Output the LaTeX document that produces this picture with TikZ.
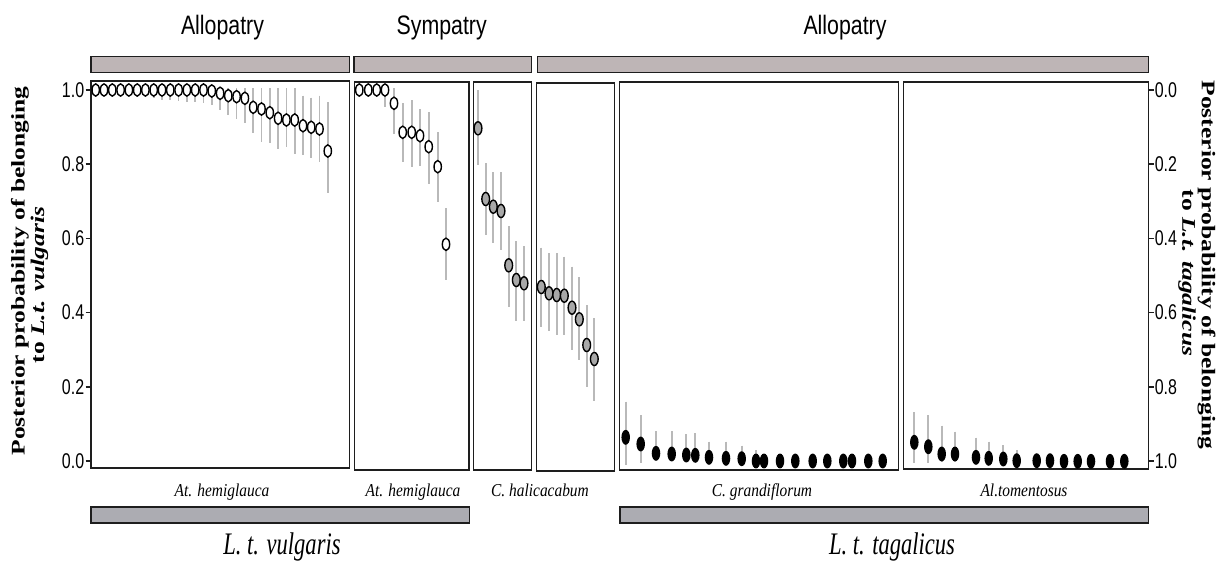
\documentclass[tikz,border=0pt]{standalone}
\usepackage{graphicx}
\usepackage{fontspec}
\setmainfont{Liberation Serif}
\newfontfamily\condsans{Liberation Sans}
\definecolor{errgray}{RGB}{185,185,185}
\definecolor{topbar}{RGB}{190,181,182}
\definecolor{botbar}{RGB}{172,172,178}
\definecolor{dotgray}{RGB}{168,168,168}
\definecolor{framec}{RGB}{30,30,30}
\begin{document}
\begin{tikzpicture}[x=0.75pt,y=-0.75pt,
  panel/.style={draw=framec,line width=1.1pt},
  barbox/.style={draw=framec,line width=1.4pt},
  errbar/.style={draw=errgray,line width=1.3pt},
  openmk/.style={draw=black,fill=white,line width=1.05pt},
  graymk/.style={draw=black,fill=dotgray,line width=1.05pt},
  blackmk/.style={fill=black},
  toptitle/.style={font=\condsans\fontsize{20}{23}\selectfont,inner sep=0pt,anchor=base},
  ticklab/.style={font=\condsans\fontsize{16}{17}\selectfont,inner sep=0pt},
  specieslab/.style={font=\itshape\fontsize{13.6}{15}\selectfont,inner sep=0pt,anchor=base},
  taxonlab/.style={font=\itshape\fontsize{23.5}{26}\selectfont,inner sep=0pt,anchor=base},
  axtitle/.style={font=\bfseries\fontsize{14.5}{16}\selectfont,inner sep=0pt,anchor=center}
]
\useasboundingbox[fill=white] (0,0) rectangle (1225,575);

% titles
\node[toptitle] (allo1) at (222.5,34) {\scalebox{0.8}[1]{Allopatry}};
\node[toptitle] (symp) at (441.7,34) {\scalebox{0.8}[1]{Sympatry}};
\node[toptitle] (allo2) at (845,34) {\scalebox{0.8}[1]{Allopatry}};

% top bars
\draw[barbox,fill=topbar] (91,56.5) rectangle (349.5,72.5);
\draw[barbox,fill=topbar] (354,56.5) rectangle (531.5,72.5);
\draw[barbox,fill=topbar] (537.5,56.5) rectangle (1148.5,72.5);

% panels
\draw[panel] (91,81) rectangle (349.5,468);
\draw[panel] (354.3,82) rectangle (469,470);
\draw[panel] (473.3,82) rectangle (531.5,470);
\draw[panel] (536.7,83) rectangle (614.3,471);
\draw[panel] (619.5,82) rectangle (898.3,470);
\draw[panel] (903.7,82) rectangle (1148.3,469);

% left axis
\foreach \lab/\yy [count=\i] in {1.0/90,0.8/164.2,0.6/238.4,0.4/312.6,0.2/386.8,0.0/461}{
  \draw[panel] (85.5,\yy) -- (91,\yy);
  \node[ticklab,anchor=east] (lt\i) at (84.5,\yy) {\scalebox{0.75}[1]{\lab}};
}
% right axis
\foreach \lab/\yy [count=\i] in {0.0/90,0.2/164.2,0.4/238.4,0.6/312.6,0.8/386.8,1.0/461}{
  \draw[panel] (1148.3,\yy) -- (1153.5,\yy);
  \node[ticklab,anchor=west] (rt\i) at (1154.5,\yy) {\scalebox{0.75}[1]{\lab}};
}

% axis titles
\node[axtitle,rotate=90] (yl1) at (20,271) {\scalebox{1.32}[1]{Posterior probability of belonging}};
\node[axtitle,rotate=90] (yl2) at (39.5,285) {\scalebox{1.32}[1]{to \textit{L.t. vulgaris}}};
\node[axtitle,rotate=-90] (yr1) at (1206.5,265) {\scalebox{1.32}[1]{Posterior probability of belonging}};
\node[axtitle,rotate=-90] (yr2) at (1187,273) {\scalebox{1.32}[1]{to \textit{L.t. tagalicus}}};

% data: open circles (panels 1, 2)
\def\opendata{95.7/90/90/91, 104.0/90/90/91, 112.3/90/90/91, 120.6/90/90/91,
 128.9/90/90/91, 137.2/90/90/92, 145.4/90/88/97, 153.7/90/88/98, 162.0/90/88/100,
 170.3/90/88/100, 178.6/90/88/101, 186.9/90/88/102, 195.2/90/88/102, 203.5/90/88/103,
 211.8/91/88/105, 220.1/93.3/88/110, 228.3/95.7/88/115, 236.6/96.7/88/119,
 244.9/98.3/88/123.3, 253.2/107.3/88/133.3, 261.5/109/88/141.7, 269.8/112.7/88/143.3,
 278.1/118.3/88/149, 286.4/120/88/146.7, 294.7/120/88/154, 303.0/125.7/95.7/155,
 311.2/127.3/97.7/158.3, 319.5/129/95.7/161.7, 327.8/151/102.3/193.3,
 359.3/90/88/92, 368.3/90/88/93, 376.7/90/88/94, 385/90/88/107, 394/103.3/88/134,
 402.7/132.3/103/162, 411.7/132.3/100/167, 420/135.7/109/166, 428.7/146.7/112/184,
 437.7/166.7/132/202, 446/244.3/208/280}
\def\graydata{478/128.3/90/165, 485.7/199/163/235, 493.3/206.7/172/243, 501/211/172/250,
 508.7/265.3/226/307, 516.3/280/241/321, 524/283.3/246/321,
 541.3/287/247.7/326.7, 549/293.3/253.3/331, 556.7/295/253.3/335, 564.3/295.7/256.7/335,
 572/307.7/266.7/350, 579.3/319.3/277.3/360, 586.7/345/305/386.7, 594.3/359/318.3/401}
\def\blackdata{625.7/437.3/401.7/465, 640.7/444/415/463, 656/453.3/431/460,
 671.7/454/431/460, 686.3/455/434.3/461.7, 695.3/455.3/433.3/461.7, 709/457.3/441.7/461.7,
 726/458.3/441.7/461.7, 741.7/458.7/445.7/461.7, 756/461/450/461.7, 764/461/461/461,
 780/461/461/461, 795.3/461/461/461, 812.7/461/461/461, 827.3/461/461/461,
 843.3/461/461/461, 852/461/461/461, 868.3/461/461/461, 882.7/461/461/461,
 914.3/442.3/412.3/463.3, 928.3/446.7/415/463, 941.7/454/425.7/461.7, 955/454/431.7/461.7,
 976/457.3/437.7/461.7, 988.7/458.3/441.7/461.7, 1003.3/459/445/461.7, 1016.7/460.7/450/461.7,
 1036.7/460.7/460.7/460.7, 1050/460.7/460.7/460.7, 1064/461.3/461.3/461.3,
 1077.7/461.3/461.3/461.3, 1091/461.3/461.3/461.3, 1110/461.3/461.3/461.3,
 1124.3/461.3/461.3/461.3}

% error bars
\foreach \xa/\ya/\ta/\ba in \opendata {\draw[errbar] (\xa,\ta) -- (\xa,\ba);}
\foreach \xa/\ya/\ta/\ba in \graydata {\draw[errbar] (\xa,\ta) -- (\xa,\ba);}
\foreach \xa/\ya/\ta/\ba in \blackdata {\draw[errbar] (\xa,\ta) -- (\xa,\ba);}
% markers
\foreach \xa/\ya/\ta/\ba in \opendata {\draw[openmk] (\xa,\ya) ellipse [x radius=2.75pt, y radius=4.6pt];}
\foreach \xa/\ya/\ta/\ba in \graydata {\draw[graymk] (\xa,\ya) ellipse [x radius=2.9pt, y radius=4.9pt];}
\foreach \xa/\ya/\ta/\ba in \blackdata {\fill[blackmk] (\xa,\ya) ellipse [x radius=3.2pt, y radius=5.6pt];}

% species labels
\node[specieslab] (sp1) at (222,496.7) {\scalebox{0.85}[1]{At. hemiglauca}};
\node[specieslab] (sp2) at (413,496.7) {\scalebox{0.85}[1]{At. hemiglauca}};
\node[specieslab] (sp3) at (540,496.7) {\scalebox{0.85}[1]{C. halicacabum}};
\node[specieslab] (sp4) at (762,496.7) {\scalebox{0.85}[1]{C. grandiflorum}};
\node[specieslab] (sp5) at (1024,496.7) {\scalebox{0.85}[1]{Al.tomentosus}};

% bottom bars
\draw[barbox,fill=botbar] (91,507) rectangle (469.5,523);
\draw[barbox,fill=botbar] (620,507) rectangle (1148.5,523);

% taxon labels
\node[taxonlab] (tx1) at (282,554) {\scalebox{0.72}[1]{L. t. vulgaris}};
\node[taxonlab] (tx2) at (892,554) {\scalebox{0.72}[1]{L. t. tagalicus}};
\end{tikzpicture}
\end{document}
